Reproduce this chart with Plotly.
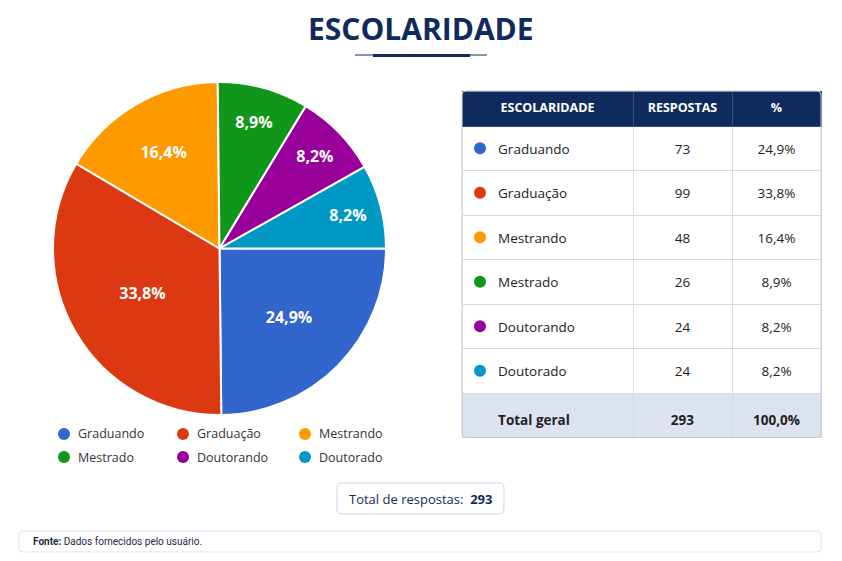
import plotly.graph_objects as go

W, H = 842, 561

categories = ["Graduando", "Graduação", "Mestrando", "Mestrado", "Doutorando", "Doutorado"]
respostas = [73, 99, 48, 26, 24, 24]
pct_labels = ["24,9%", "33,8%", "16,4%", "8,9%", "8,2%", "8,2%"]
colors = ["#3366CC", "#DC3912", "#FF9900", "#109618", "#990099", "#0099C6"]
total_label = "Total geral"
total_reported = 293
total_pct = "100,0%"

NAVY = "#0f2b5e"
FONT = "Open Sans"
TOTAL_FILL = "#dde4ef"


def px(x):
    return x / W


def py(y):
    return 1 - y / H


fig = go.Figure()

# Pie
fig.add_trace(go.Pie(
    labels=categories,
    values=respostas,
    text=pct_labels,
    texttemplate="<b>%{text}</b>",
    textinfo="text",
    textposition="inside",
    insidetextorientation="horizontal",
    textfont=dict(family=FONT, size=16, color="white"),
    marker=dict(colors=colors, line=dict(color="white", width=2)),
    sort=False,
    direction="clockwise",
    rotation=90,
    hoverinfo="skip",
    showlegend=False,
    domain=dict(x=[px(53), px(386)], y=[py(415), py(82)]),
))

# Table geometry
n = len(categories)
row_fill = ["white"] * n + [TOTAL_FILL]
TAB_X0, TAB_X1, TAB_TOP = 462, 821, 91
HEADER_H = 35
CELL_H = 44.5
COLW = [171, 99, 89]
TEXT_SHIFT = 9.5

# Table: background/lines + header
fig.add_trace(go.Table(
    domain=dict(x=[px(TAB_X0), px(TAB_X1)], y=[0, py(TAB_TOP)]),
    columnwidth=COLW,
    header=dict(
        values=["<b>ESCOLARIDADE</b>", "<b>RESPOSTAS</b>", "<b>%</b>"],
        fill_color=NAVY,
        line=dict(color="#3a4f78", width=1),
        align="center",
        font=dict(family=FONT, size=12.5, color="white"),
        height=HEADER_H,
    ),
    cells=dict(
        values=[[""] * (n + 1)] * 3,
        fill_color=[row_fill, row_fill, row_fill],
        line=dict(color="#d5dae2", width=1),
        font=dict(family=FONT, size=13, color="#222222"),
        height=CELL_H,
    ),
))

# Table: text layer (transparent, shifted down to centre text vertically)
indent = "\u00a0" * 8
col1 = [indent + nm for nm in categories] + [indent + "<b>" + total_label.replace(" ", "\u00a0") + "</b>"]
col2 = [str(v) for v in respostas] + [f"<b>{total_reported}</b>"]
col3 = pct_labels + [f"<b>{total_pct}</b>"]
clear = "rgba(0,0,0,0)"

fig.add_trace(go.Table(
    domain=dict(x=[px(TAB_X0), px(TAB_X1)], y=[0, py(TAB_TOP + TEXT_SHIFT)]),
    columnwidth=COLW,
    header=dict(
        values=["", "", ""],
        fill_color=clear,
        line=dict(color=clear, width=0),
        height=HEADER_H,
    ),
    cells=dict(
        values=[col1, col2, col3],
        fill_color=clear,
        line=dict(color=clear, width=0),
        align=["left", "center", "center"],
        font=dict(family=FONT, size=13.5, color="#222222"),
        height=CELL_H,
    ),
))

shapes = []
annotations = []

# Colour dots in the table's first column
for i, c in enumerate(colors):
    cy = TAB_TOP + HEADER_H + CELL_H * (i + 0.5)
    cx, r = 480, 6
    shapes.append(dict(type="circle", xref="paper", yref="paper",
                       x0=px(cx - r), x1=px(cx + r), y0=py(cy + r), y1=py(cy - r),
                       fillcolor=c, line=dict(width=0)))

# Title
annotations.append(dict(
    x=0.5, y=py(28), xref="paper", yref="paper", text="<b>ESCOLARIDADE</b>",
    showarrow=False, font=dict(family=FONT, size=30, color=NAVY),
    xanchor="center", yanchor="middle"))
shapes.append(dict(type="line", xref="paper", yref="paper", x0=px(355), x1=px(487),
                   y0=py(55), y1=py(55), line=dict(color=NAVY, width=1)))
shapes.append(dict(type="line", xref="paper", yref="paper", x0=px(373), x1=px(470),
                   y0=py(55.5), y1=py(55.5), line=dict(color=NAVY, width=3)))

# Custom legend
leg_x = [64, 183, 305]
leg_y = [434, 457]
for i, (name, c) in enumerate(zip(categories, colors)):
    cx = leg_x[i % 3]
    cy = leg_y[i // 3]
    r = 6
    shapes.append(dict(type="circle", xref="paper", yref="paper",
                       x0=px(cx - r), x1=px(cx + r), y0=py(cy + r), y1=py(cy - r),
                       fillcolor=c, line=dict(width=0)))
    annotations.append(dict(x=px(cx + 12), y=py(cy), xref="paper", yref="paper",
                            text=name, showarrow=False, xanchor="left", yanchor="middle",
                            font=dict(family=FONT, size=12.5, color="#333333")))


def rrect(x0, y0, x1, y1, r):
    X0, X1 = px(x0), px(x1)
    return (f"M {px(x0 + r)},{py(y0)} L {px(x1 - r)},{py(y0)} "
            f"Q {X1},{py(y0)} {X1},{py(y0 + r)} L {X1},{py(y1 - r)} "
            f"Q {X1},{py(y1)} {px(x1 - r)},{py(y1)} L {px(x0 + r)},{py(y1)} "
            f"Q {X0},{py(y1)} {X0},{py(y1 - r)} L {X0},{py(y0 + r)} "
            f"Q {X0},{py(y0)} {px(x0 + r)},{py(y0)} Z")


# Table rounded outline
tab_bottom = TAB_TOP + HEADER_H + CELL_H * (n + 1)
shapes.append(dict(type="path", xref="paper", yref="paper",
                   path=rrect(TAB_X0, TAB_TOP, TAB_X1, tab_bottom, 4),
                   line=dict(color="#c5ccd8", width=1)))

# Total box
shapes.append(dict(type="path", xref="paper", yref="paper", path=rrect(337, 483, 504, 514, 5),
                   fillcolor="white", line=dict(color="#cfd5de", width=1), layer="below"))
annotations.append(dict(x=px(420.5), y=py(498.5), xref="paper", yref="paper",
                        text=f"Total de respostas:  <b>{total_reported}</b>", showarrow=False,
                        xanchor="center", yanchor="middle",
                        font=dict(family=FONT, size=13, color=NAVY)))

# Footer box
shapes.append(dict(type="path", xref="paper", yref="paper", path=rrect(19, 531, 821, 552, 4),
                   fillcolor="white", line=dict(color="#dde1e7", width=1), layer="below"))
annotations.append(dict(x=px(31), y=py(541.5), xref="paper", yref="paper",
                        text="<b>Fonte:</b> Dados fornecidos pelo usuário.", showarrow=False,
                        xanchor="left", yanchor="middle",
                        font=dict(family="Roboto", size=10, color="#1c2a44")))

fig.update_layout(
    width=W, height=H, autosize=False,
    margin=dict(l=0, r=0, t=0, b=0),
    paper_bgcolor="white", plot_bgcolor="white",
    shapes=shapes, annotations=annotations,
    showlegend=False,
)

fig.write_html("out.html")
